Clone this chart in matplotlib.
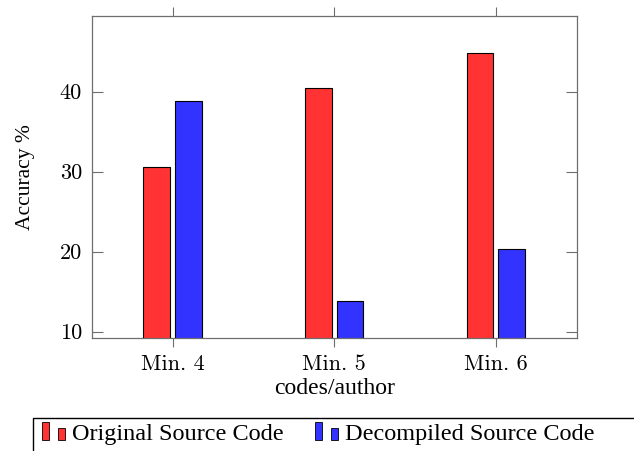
import matplotlib
matplotlib.use("Agg")
import matplotlib.pyplot as plt
import numpy as np
from matplotlib.legend_handler import HandlerBase
from matplotlib.patches import Rectangle


categories = ['Min. 4', 'Min. 5', 'Min. 6']
original = [30.6, 40.5, 44.9]
decompiled = [38.8, 13.9, 20.4]
series_names = ['Original Source Code', 'Decompiled Source Code']
yticks = [10, 20, 30, 40]

RED = '#ff3333'
BLUE = '#3333ff'
AXIS_GRAY = '#6e6e6e'


class TwoBarHandler(HandlerBase):
    """
    Legend entry drawn as two small bars, like pgfplots ybar legends
    """
    def create_artists(self, legend, orig_handle, xdescent, ydescent,
                       width, height, fontsize, trans):
        fc = orig_handle.get_facecolor()
        bw = width * 0.3
        tall = Rectangle((-xdescent, -ydescent), bw, height,
                         facecolor=fc, edgecolor='black', lw=0.6,
                         transform=trans)
        short = Rectangle((-xdescent + width * 0.7, -ydescent), bw, height * 0.68,
                          facecolor=fc, edgecolor='black', lw=0.6,
                          transform=trans)
        return [tall, short]


fig = plt.figure(figsize=(6.34, 4.51), dpi=100)
W, H = 634., 451.
ax = fig.add_axes([91.7 / W, 1 - 337.7 / H, (577 - 91.7) / W, (337.7 - 15.7) / H])

x = np.arange(len(categories))
bw = 0.165
b1 = ax.bar(x - 0.099, original, width=bw, color=RED, edgecolor='black', linewidth=0.8)
b2 = ax.bar(x + 0.097, decompiled, width=bw, color=BLUE, edgecolor='black', linewidth=0.8)

ax.set_xlim(-0.5, 2.5)
ax.set_ylim(9.25, 49.5)
ax.set_xticks(x)
ax.set_xticklabels(categories, fontfamily='cmr10', fontsize=16)
ax.set_yticks(yticks)
ax.set_yticklabels([str(v) for v in yticks], fontfamily='cmr10', fontsize=16)

for s in ax.spines.values():
    s.set_color(AXIS_GRAY)
    s.set_linewidth(0.9)
ax.tick_params(axis='x', direction='out', top=True, length=6.5, width=0.8,
               color=AXIS_GRAY, pad=5.5)
ax.tick_params(axis='y', direction='in', right=True, length=8, width=0.8,
               color=AXIS_GRAY, pad=7)

ax.set_ylabel('Accuracy %', fontfamily='Liberation Serif', fontsize=15.5, labelpad=18)
ax.set_xlabel('codes/author', fontfamily='Liberation Serif', fontsize=17, labelpad=3)

# legend frame: only left and top edges fall inside the picture
fig.add_artist(Rectangle((32.7 / W, -0.1), 1.0, 0.1 + (H - 418.3) / H,
                         transform=fig.transFigure, fill=False,
                         edgecolor='black', linewidth=1.0))

lkw = dict(loc='upper left', frameon=False, borderpad=0, borderaxespad=0,
           handler_map={matplotlib.patches.Rectangle: TwoBarHandler()},
           handlelength=0.95, handleheight=0.78, handletextpad=0.3,
           prop={'family': 'Liberation Serif', 'size': 17.5},
           bbox_transform=fig.transFigure)
fig.legend([b1.patches[0]], [series_names[0]], bbox_to_anchor=(41.7 / W, 1 - 422 / H), **lkw)
fig.legend([b2.patches[0]], [series_names[1]], bbox_to_anchor=(315 / W, 1 - 422 / H), **lkw)

fig.savefig('out.png', dpi=100)
